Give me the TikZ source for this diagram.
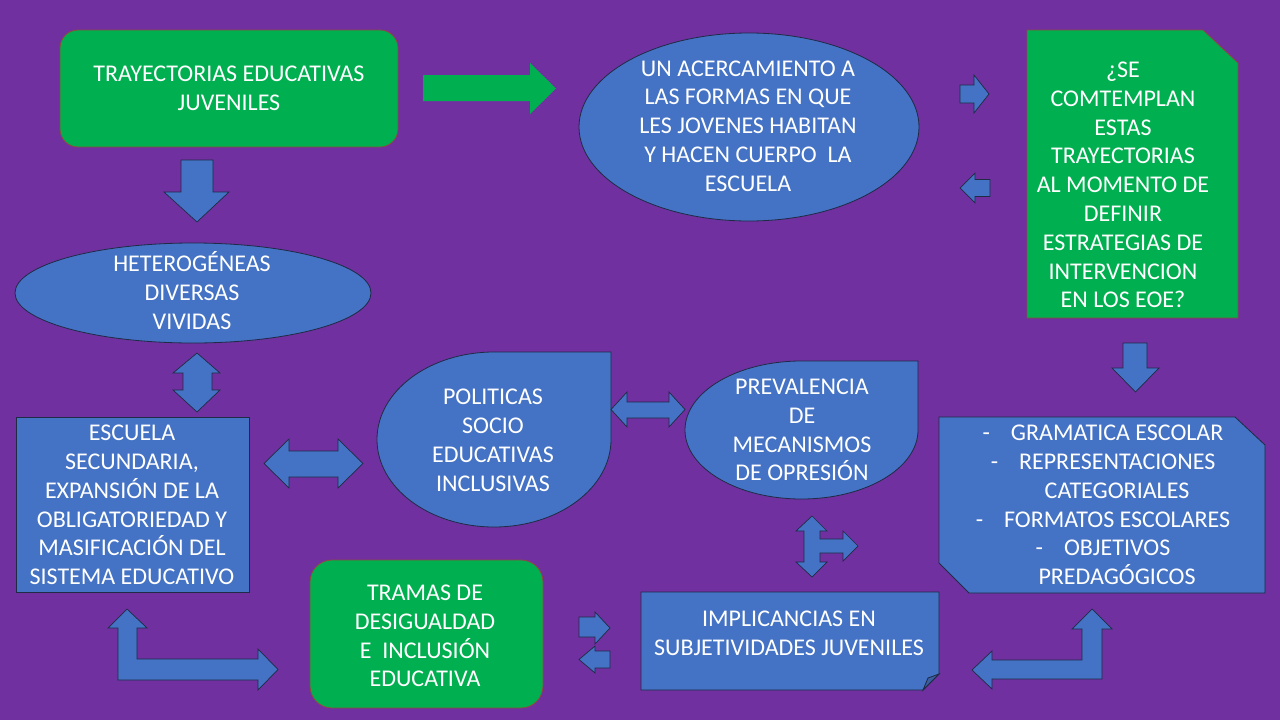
\documentclass[tikz,border=0pt]{standalone}
\usepackage{fontspec}
\setmainfont{Carlito}
\definecolor{bgc}{HTML}{7030A0}
\definecolor{bluef}{HTML}{4472C4}
\definecolor{greenf}{HTML}{00B050}
\definecolor{bline}{HTML}{1F2A44}
\definecolor{gline}{HTML}{8E4B3C}
\definecolor{foldc}{HTML}{3A5FA0}
\newcommand\lnst{\rule[-4pt]{0pt}{23.2pt}}
\begin{document}
\begin{tikzpicture}[x=1pt,y=-1pt,
  bshape/.style={fill=bluef,draw=bline,line width=0.8pt,line join=miter},
  gshape/.style={fill=greenf,draw=gline,line width=0.8pt},
  barrow/.style={fill=bluef,draw=bline,line width=0.7pt,line join=miter},
  garrow/.style={fill=greenf,draw=none},
  lbl/.style={text=white,font=\fontsize{24}{28.8}\selectfont,align=center,inner sep=0pt}]
\useasboundingbox (0,0) rectangle (1280,720);
\fill[bgc] (0,0) rectangle (1280,720);

% ---- shapes ----
\draw[gshape,rounded corners=18pt] (60,30) rectangle (398,147);
\draw[bshape] (749,127) ellipse [x radius=170, y radius=94];
\draw[gshape] (1027,30) -- (1203,30) -- (1238,63) -- (1238,318) -- (1027,318) -- cycle;
\draw[bshape] (193,293) ellipse [x radius=178, y radius=50];
\draw[bshape] (16,417) rectangle (249,592);
\draw[bshape] (377,439.5) arc[start angle=180,end angle=270,x radius=117,y radius=87.5]
  -- (611,352) -- (611,439.5) arc[start angle=0,end angle=180,x radius=117,y radius=87.5] -- cycle;
\draw[bshape] (685,430) arc[start angle=180,end angle=270,x radius=116.5,y radius=69]
  -- (918,361) -- (918,430) arc[start angle=0,end angle=180,x radius=116.5,y radius=69] -- cycle;
\draw[bshape] (939,417) -- (1235,417) -- (1265,445) -- (1265,593) -- (969,593) -- (939,563) -- cycle;
\draw[gshape,rounded corners=22pt] (310,560) rectangle (543,708);
\draw[bshape] (641,592) -- (939,592) -- (939,674) -- (923,690) -- (641,690) -- cycle;
\draw[fill=foldc,draw=bline,line width=0.8pt,line join=miter] (923,690) -- (928,678) -- (939,674) -- cycle;

% ---- block arrows ----
% green arrow
\fill[garrow] (423,75) -- (530,75) -- (530,63) -- (556,88.5) -- (530,114) -- (530,101) -- (423,101) -- cycle;
% small right / left arrows near question box
\draw[barrow] (960,85) -- (974,85) -- (974,75) -- (989,94) -- (974,113) -- (974,103) -- (960,103) -- cycle;
\draw[barrow] (990,179.5) -- (975,179.5) -- (975,173) -- (960,188) -- (975,203) -- (975,196.5) -- (990,196.5) -- cycle;
% down arrow below question box
\draw[barrow] (1123,343) -- (1147,343) -- (1147,368) -- (1159,368) -- (1135.5,392) -- (1112,368) -- (1123,368) -- cycle;
% down arrow below trayectorias
\draw[barrow] (181,160) -- (213,160) -- (213,192) -- (229,192) -- (197,222) -- (164,192) -- (181,192) -- cycle;
% vertical double arrow
\draw[barrow] (197,353) -- (220,373) -- (212,373) -- (212,390) -- (220,390) -- (197,412) -- (173,390) -- (183,390) -- (183,373) -- (173,373) -- cycle;
% horizontal double arrow escuela-politicas
\draw[barrow] (264,463.5) -- (289,439) -- (289,451) -- (338,451) -- (338,439) -- (363,463.5) -- (338,488) -- (338,477) -- (289,477) -- (289,488) -- cycle;
% horizontal double arrow politicas-prevalencia
\draw[barrow] (611,409.5) -- (627,392) -- (627,402) -- (669,402) -- (669,392) -- (685,409.5) -- (669,427) -- (669,418) -- (627,418) -- (627,427) -- cycle;
% three-way arrow
\draw[barrow] (812,516) -- (827,531) -- (820,531) -- (820,539) -- (843,539) -- (843,531) -- (858,546) -- (843,561) -- (843,553) -- (820,553) -- (820,562) -- (827,562) -- (812,577) -- (796,562) -- (804,562) -- (804,553) -- (804,531) -- (796,531) -- cycle;
% small arrows between tramas and implicancias
\draw[barrow] (579,617) -- (595,617) -- (595,612) -- (610,628) -- (595,644) -- (595,637) -- (579,637) -- cycle;
\draw[barrow] (610,651) -- (595,651) -- (595,646) -- (579,659.5) -- (595,673) -- (595,668) -- (610,668) -- cycle;
% left L arrow
\draw[barrow] (127,609) -- (147,628) -- (137,628) -- (137,659) -- (258,659) -- (258,649) -- (278,669.5) -- (258,690) -- (258,680) -- (118,680) -- (118,628) -- (108,628) -- cycle;
% right L arrow
\draw[barrow] (1092,609) -- (1112,629) -- (1102,629) -- (1102,679) -- (992,679) -- (992,689) -- (972,670) -- (992,651) -- (992,660) -- (1082,660) -- (1082,629) -- (1072,629) -- cycle;

% ---- texts ----
\node[lbl] (tray) at (229,88) {\lnst TRAYECTORIAS EDUCATIVAS\\\lnst JUVENILES};
\node[lbl] (acerc) at (748,126) {\lnst UN ACERCAMIENTO A\\\lnst LAS FORMAS EN QUE\\\lnst LES JOVENES HABITAN\\\lnst Y HACEN CUERPO~ LA\\\lnst ESCUELA};
\node[lbl] (quest) at (1123,185) {\lnst ¿SE\\\lnst COMTEMPLAN\\\lnst ESTAS\\\lnst TRAYECTORIAS\\\lnst AL MOMENTO DE\\\lnst DEFINIR\\\lnst ESTRATEGIAS DE\\\lnst INTERVENCION\\\lnst EN LOS EOE?};
\node[lbl] (heter) at (192,292.5) {\lnst HETEROGÉNEAS\\\lnst DIVERSAS\\\lnst VIVIDAS};
\node[lbl] (escuela) at (132,505) {\lnst ESCUELA\\\lnst SECUNDARIA,\\\lnst EXPANSIÓN DE LA\\\lnst OBLIGATORIEDAD Y\\\lnst MASIFICACIÓN DEL\\\lnst SISTEMA EDUCATIVO};
\node[lbl] (polit) at (493,440.5) {\lnst POLITICAS\\\lnst SOCIO\\\lnst EDUCATIVAS\\\lnst INCLUSIVAS};
\node[lbl] (preval) at (802,430) {\lnst PREVALENCIA\\\lnst DE\\\lnst MECANISMOS\\\lnst DE OPRESIÓN};
\node[lbl] (tramas) at (425,636) {\lnst TRAMAS DE\\\lnst DESIGUALDAD\\\lnst E~ INCLUSIÓN\\\lnst EDUCATIVA};
\node[lbl] (impl) at (789,633.5) {\lnst IMPLICANCIAS EN\\\lnst SUBJETIVIDADES JUVENILES};
\node[lbl] (gram) at (1103,505) {\lnst -\hspace{21pt}GRAMATICA ESCOLAR\\\lnst -\hspace{21pt}REPRESENTACIONES\\\lnst\hspace*{28pt}CATEGORIALES\\\lnst -\hspace{21pt}FORMATOS ESCOLARES\\\lnst -\hspace{21pt}OBJETIVOS\\\lnst\hspace*{28pt}PREDAGÓGICOS};
\end{tikzpicture}
\end{document}
